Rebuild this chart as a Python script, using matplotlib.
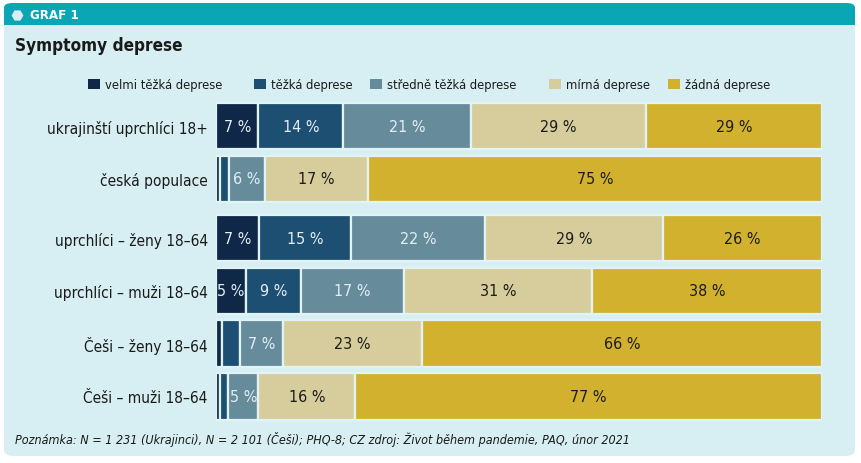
import matplotlib
matplotlib.use("Agg")
import matplotlib.pyplot as plt
from matplotlib import font_manager
from matplotlib.patches import FancyBboxPatch, Rectangle
from matplotlib.lines import Line2D
import numpy as np

# ---- data ----
categories = ["ukrajinští uprchlíci 18+", "česká populace",
              "uprchlíci – ženy 18–64", "uprchlíci – muži 18–64",
              "Češi – ženy 18–64", "Češi – muži 18–64"]
series_names = ["velmi těžká deprese", "těžká deprese", "středně těžká deprese",
                "mírná deprese", "žádná deprese"]
velmi_tezka = [7, 0.6, 7, 5, 1, 0.6]
tezka = [14, 1.5, 15, 9, 3, 1.4]
stredne_tezka = [21, 6, 22, 17, 7, 5]
mirna = [29, 17, 29, 31, 23, 16]
zadna = [29, 75, 26, 38, 66, 77]
series = [velmi_tezka, tezka, stredne_tezka, mirna, zadna]
colors = ["#0f2847", "#1d4f72", "#668b9b", "#d7cd9c", "#d2b12f"]
text_colors = ["#e3eef4", "#e3eef4", "#e3eef4", "#1c1c1c", "#1c1c1c"]
row_pos = [0, 1, 2.13, 3.13, 4.13, 5.13]
note = "Poznámka: N = 1 231 (Ukrajinci), N = 2 101 (Češi); PHQ-8; CZ zdroj: Život během pandemie, PAQ, únor 2021"

names = {f.name for f in font_manager.fontManager.ttflist}
font = "Liberation Sans Narrow" if "Liberation Sans Narrow" in names else "DejaVu Sans"
stretch = "normal" if font == "Liberation Sans Narrow" else "condensed"
plt.rcParams["font.family"] = [font, "DejaVu Sans"]
plt.rcParams["font.stretch"] = stretch

BG = "#d7eff3"
TEAL = "#0aa6b6"

fig = plt.figure(figsize=(8.61, 4.64), dpi=100)
fig.patch.set_facecolor("white")
W, H = 861, 464

def fx(px):
    return px / W

def fy(py):
    return 1 - py / H

# panel background
fig.patches.append(FancyBboxPatch((fx(4), fy(457)), fx(851), (457 - 8) / H,
                                  boxstyle="round,pad=0,rounding_size=0.012",
                                  transform=fig.transFigure, facecolor=BG,
                                  edgecolor="none", zorder=0))
fig.patches.append(FancyBboxPatch((fx(4), fy(26)), fx(851), 22 / H,
                                  boxstyle="round,pad=0,rounding_size=0.01",
                                  transform=fig.transFigure, facecolor=TEAL,
                                  edgecolor="none", zorder=1))
fig.patches.append(Rectangle((fx(4), fy(26)), fx(851), 10 / H,
                             transform=fig.transFigure, facecolor=TEAL,
                             edgecolor="none", zorder=1))
fig.lines.append(Line2D([fx(17)], [fy(15.5)], marker="H", markersize=8.5,
                        color="#d8eef2", markeredgewidth=0,
                        transform=fig.transFigure, zorder=2))
fig.text(fx(30), fy(15.5), "GRAF 1", color="white", fontsize=9.5, fontweight="bold",
         va="center", ha="left", family=["DejaVu Sans"], stretch="condensed", zorder=3)
fig.text(fx(15), fy(46), "Symptomy deprese", color="#1a1a1a", fontsize=12.3,
         fontweight="bold", va="center", ha="left", family=["DejaVu Sans"],
         stretch="condensed", zorder=3)

# legend
leg_sq = [88, 254, 370, 549, 668]
for x0, name, c in zip(leg_sq, series_names, colors):
    fig.patches.append(Rectangle((fx(x0), fy(90)), fx(12), 10 / H,
                                 transform=fig.transFigure, facecolor=c,
                                 edgecolor="none", zorder=3))
    fig.text(fx(x0 + 17), fy(85), name, fontsize=9.3, color="#1a1a1a",
             va="center", ha="left", zorder=3)

# bars
ax = fig.add_axes([fx(216), fy(430), fx(822 - 216), (430 - 95.4) / H])
ax.set_zorder(5)
ax.set_facecolor("none")
data = np.array(series, dtype=float)
totals = data.sum(axis=0)
norm = data / totals * 100
left = np.zeros(len(categories))
for i, (vals, c, tc) in enumerate(zip(norm, colors, text_colors)):
    ax.barh(row_pos, vals, left=left, height=0.88, color=c, edgecolor="#e2f3f6",
            linewidth=1.6)
    for j, (v, raw) in enumerate(zip(vals, data[i])):
        if raw >= 4.5:
            ax.text(left[j] + v / 2, row_pos[j], f"{raw:g} %", ha="center",
                    va="center", color=tc, fontsize=11.5)
    left += vals

ax.set_xlim(0, 100)
ax.set_ylim(5.75, -0.6)
ax.set_yticks(row_pos)
ax.set_yticklabels(categories, fontsize=11.1, color="#1a1a1a")
ax.tick_params(axis="y", length=0, pad=6)
ax.set_xticks([])
for s in ax.spines.values():
    s.set_visible(False)

fig.text(fx(15), fy(440), note, fontsize=9, style="italic", color="#1a1a1a",
         va="center", ha="left", zorder=3)

fig.savefig("out.png", dpi=100, facecolor=fig.get_facecolor())
